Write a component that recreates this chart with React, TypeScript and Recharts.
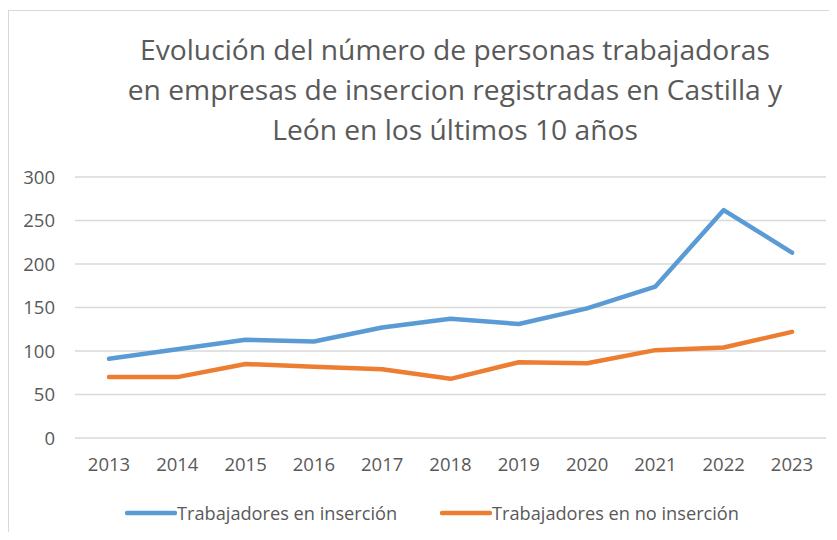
import React from "react";
import { LineChart, Line, XAxis, YAxis, CartesianGrid } from "recharts";

const years = ["2013", "2014", "2015", "2016", "2017", "2018", "2019", "2020", "2021", "2022", "2023"];
const insercion = [91, 102, 113, 111, 127, 137, 131, 149, 174, 262, 213];
const noInsercion = [70, 70, 85, 82, 79, 68, 87, 86, 101, 104, 122];
const yTicks = [0, 50, 100, 150, 200, 250, 300];
const seriesNames = ["Trabajadores en inserción", "Trabajadores en no inserción"];
const titleLines = [
  "Evolución del número de personas trabajadoras",
  "en empresas de insercion registradas en Castilla y",
  "León en los últimos 10 años",
];

const data = years.map((y, i) => ({ year: y, a: insercion[i], b: noInsercion[i] }));

const FONT = "'Open Sans', sans-serif";
const TEXT = "#595959";
const BLUE = "#5b9bd5";
const ORANGE = "#ed7d31";

export default function App() {
  return (
    <div style={{ position: "relative", width: 829, height: 524, fontFamily: FONT }}>
      <div
        style={{
          position: "absolute",
          left: 0,
          top: 2,
          width: 829,
          height: 522,
          borderTop: "1px solid #d9d9d9",
          borderLeft: "1px solid #d9d9d9",
          boxSizing: "border-box",
        }}
      />
      <div
        style={{
          position: "absolute",
          left: 67,
          top: 21,
          width: 760,
          textAlign: "center",
          fontSize: 28.2,
          lineHeight: "40px",
          color: TEXT,
          whiteSpace: "nowrap",
        }}
      >
        {titleLines.map((t, i) => (
          <div key={i}>{t}</div>
        ))}
      </div>
      <div style={{ position: "absolute", left: 0, top: 0 }}>
        <LineChart width={829} height={524} data={data} margin={{ top: 169, right: 11, bottom: 64, left: 0 }}>
          <CartesianGrid vertical={false} stroke="#d9d9d9" strokeWidth={1.3} />
          <XAxis
            dataKey="year"
            axisLine={false}
            tickLine={false}
            tickSize={0}
            tickMargin={20}
            height={30}
            padding={{ left: 34, right: 34 }}
            tick={{ fill: TEXT, fontSize: 18.5, fontFamily: FONT }}
            interval={0}
          />
          <YAxis
            domain={[0, 300]}
            ticks={yTicks}
            axisLine={false}
            tickLine={false}
            tickSize={0}
            tickMargin={20}
            width={67}
            tick={{ fill: TEXT, fontSize: 18.5, fontFamily: FONT }}
            interval={0}
          />
          <Line
            dataKey="a"
            name={seriesNames[0]}
            stroke={BLUE}
            strokeWidth={4.5}
            dot={false}
            strokeLinecap="round"
            strokeLinejoin="round"
            isAnimationActive={false}
          />
          <Line
            dataKey="b"
            name={seriesNames[1]}
            stroke={ORANGE}
            strokeWidth={4.5}
            dot={false}
            strokeLinecap="round"
            strokeLinejoin="round"
            isAnimationActive={false}
          />
        </LineChart>
      </div>
      {[
        { name: seriesNames[0], color: BLUE, left: 117 },
        { name: seriesNames[1], color: ORANGE, left: 432 },
      ].map((it) => (
        <div
          key={it.name}
          style={{
            position: "absolute",
            left: it.left,
            top: 494,
            height: 22,
            display: "flex",
            alignItems: "center",
            fontSize: 18.2,
            color: TEXT,
            whiteSpace: "nowrap",
          }}
        >
          <svg width={52} height={8} style={{ display: "block" }}>
            <line x1={2} y1={4} x2={50} y2={4} stroke={it.color} strokeWidth={4.5} strokeLinecap="round" />
          </svg>
          <span style={{ marginLeft: 0 }}>{it.name}</span>
        </div>
      ))}
    </div>
  );
}
